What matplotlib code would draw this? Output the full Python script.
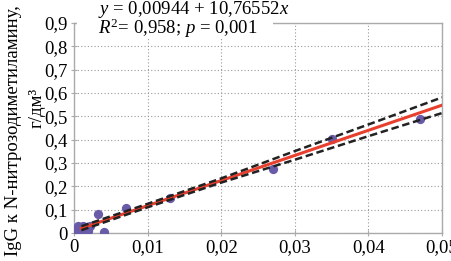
### IgG vs N-nitrosodimethylamine regression ###

import numpy as np
import matplotlib
matplotlib.use('Agg')
import matplotlib.pyplot as plt
from matplotlib.patches import Rectangle

plt.rcParams['font.family'] = ['Liberation Serif', 'DejaVu Serif']
plt.rcParams['mathtext.fontset'] = 'custom'
plt.rcParams['mathtext.rm'] = 'Liberation Serif'
plt.rcParams['mathtext.it'] = 'Liberation Serif:italic'

# observed points
x_obs = [0.0002, 0.0003, 0.0005, 0.0006, 0.0008, 0.0009, 0.0010, 0.0012,
         0.0013, 0.0015, 0.0017, 0.0019, 0.0022, 0.0032, 0.0041, 0.0070,
         0.0131, 0.0270, 0.0350, 0.0470]
y_obs = [0.000, 0.015, 0.030, 0.000, 0.010, 0.025, 0.020, 0.030,
         0.005, 0.000, 0.025, 0.010, 0.030, 0.082, 0.006, 0.108,
         0.151, 0.276, 0.403, 0.490]

# regression y = a + b*x
a, b = 0.00944, 10.76552
x_fit = [0.001, 0.05]

# 95% band
ci_x = [0.001, 0.01, 0.02, 0.03, 0.04, 0.05]
ci_lo = [0.012, 0.110, 0.216, 0.314, 0.415, 0.514]
ci_hi = [0.029, 0.125, 0.234, 0.351, 0.465, 0.581]

xticks = [0, 0.01, 0.02, 0.03, 0.04, 0.05]
yticks = [0, 0.1, 0.2, 0.3, 0.4, 0.5, 0.6, 0.7, 0.8, 0.9]

fig = plt.figure(figsize=(4.51, 2.61), dpi=100)
ax = fig.add_axes([74/451, 1-233/261, (442-74)/451, (233-23)/261])

ax.grid(True, color='#999999', linestyle=(0, (1, 2)), linewidth=0.8)
ax.set_axisbelow(True)

ax.scatter(x_obs, y_obs, s=32, color='#6a5ba8', zorder=3)
xf = np.asarray(x_fit)
ax.plot(xf, a + b*xf, color='#e8402f', linewidth=2.2, zorder=4)
ax.plot(ci_x, ci_lo, color='#222222', linestyle=(0, (3, 1.5)), linewidth=1.8, zorder=5)
ax.plot(ci_x, ci_hi, color='#222222', linestyle=(0, (3, 1.5)), linewidth=1.8, zorder=5)

ax.set_xlim(0, 0.05)
ax.set_ylim(0, 0.9)
ax.set_xticks(xticks)
ax.set_yticks(yticks)
ax.set_xticklabels([('%g' % t).replace('.', ',') for t in xticks], fontsize=13.5)
ax.set_yticklabels([('%g' % t).replace('.', ',') for t in yticks], fontsize=13.5)
ax.tick_params(direction='inout', length=5, width=0.8, color='#aaaaaa', pad=2)
for s in ax.spines.values():
    s.set_color('#aaaaaa')
    s.set_linewidth(1)

# white box behind equation
fig.add_artist(Rectangle((77/451, 1-37/261), (273-77)/451, 37/261,
                         transform=fig.transFigure, facecolor='white',
                         edgecolor='none', zorder=5))
fig.text(98/451, 1-9.5/261, r'$y$ = 0,00944 + 10,76552$x$', fontsize=13.5,
         va='center', ha='left', zorder=6)
fig.text(98/451, 1-28.5/261, r'$R^2$= 0,958; $p$ = 0,001', fontsize=13.5,
         va='center', ha='left', zorder=6)

# y label
fig.text(14/451, 0.5, 'IgG к N-нитрозодиметиламину,', rotation=90,
         fontsize=13.5, ha='center', va='center')
fig.text(37/451, 1-108/261, 'г/дм³', rotation=90,
         fontsize=13.5, ha='center', va='center')

fig.savefig('out.png', dpi=100)
